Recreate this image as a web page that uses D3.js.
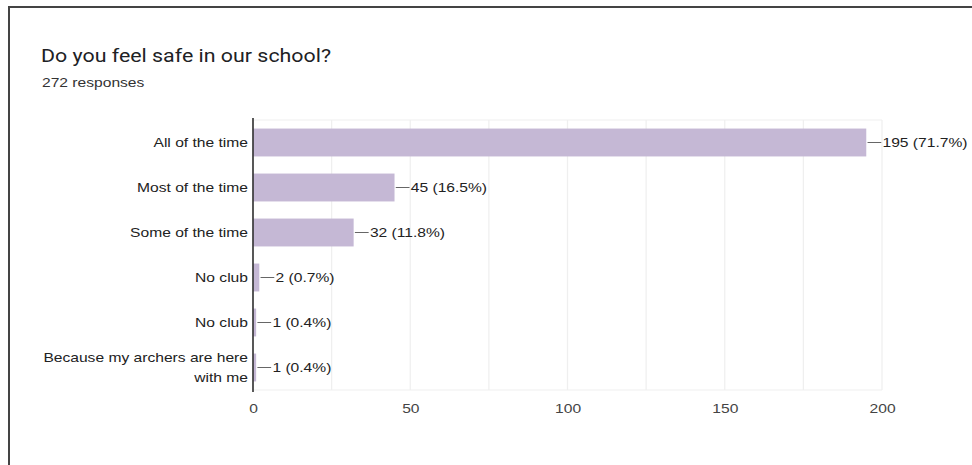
<!DOCTYPE html>
<html>
<head>
<meta charset="utf-8">
<script src="https://cdn.jsdelivr.net/npm/d3@7"></script>
<style>
  html, body { margin: 0; padding: 0; background: #fff; }
  svg { display: block; }
</style>
</head>
<body>
<svg id="chart" width="972" height="465"></svg>
<script>
// ---- data ----
const title = "Do you feel safe in our school?";
const subtitle = "272 responses";
const totalResponses = 272;
const categories = ["All of the time", "Most of the time", "Some of the time", "No club", "No club", "Because my archers are here with me"];
const values = [195, 45, 32, 2, 1, 1];
const xTickLabels = [0, 50, 100, 150, 200];
const gridValues = [0, 25, 50, 75, 100, 125, 150, 175, 200];

// ---- layout ----
const W = 972, H = 465;
const sx = 1.25;               // horizontal stretch of the reference picture
const titleSx = 1.125;
const plotLeft = 253 / sx, plotRight = 882 / sx;
const plotTop = 120, plotBottom = 390;
const font = "'Liberation Sans', Arial, sans-serif";

const svg = d3.select("#chart");
svg.append("rect").attr("width", W).attr("height", H).attr("fill", "#fff");

// frame border (top + left)
svg.append("line").attr("x1", 8).attr("x2", W).attr("y1", 7).attr("y2", 7)
  .attr("stroke", "#444").attr("stroke-width", 2);
svg.append("line").attr("x1", 9).attr("x2", 9).attr("y1", 6).attr("y2", H)
  .attr("stroke", "#444").attr("stroke-width", 2);

// title (own stretch)
svg.append("g").attr("transform", `scale(${titleSx},1)`)
  .append("text").attr("x", 41 / titleSx).attr("y", 62)
  .attr("font-family", "Roboto, 'Open Sans', sans-serif").attr("font-size", 19)
  .attr("fill", "#202124").text(title);

const g = svg.append("g").attr("transform", `scale(${sx},1)`);

g.append("text").attr("x", 42 / sx).attr("y", 87)
  .attr("font-family", font).attr("font-size", 12.5)
  .attr("fill", "#333").text(subtitle);

const x = d3.scaleLinear().domain([0, 200]).range([plotLeft, plotRight]);
const y = d3.scaleBand().domain(d3.range(categories.length))
  .range([plotTop, plotBottom]).paddingInner(0.38).paddingOuter(0.19);

// gridlines
g.append("g").selectAll("line").data(gridValues).join("line")
  .attr("x1", d => x(d)).attr("x2", d => x(d))
  .attr("y1", plotTop).attr("y2", plotBottom)
  .attr("stroke", "#efefef").attr("stroke-width", 1);
g.append("line").attr("x1", plotLeft).attr("x2", plotRight)
  .attr("y1", plotTop).attr("y2", plotTop).attr("stroke", "#efefef");
g.append("line").attr("x1", plotLeft).attr("x2", plotRight)
  .attr("y1", plotBottom).attr("y2", plotBottom).attr("stroke", "#efefef");

// x axis tick labels
const xAxis = d3.axisBottom(x).tickValues(xTickLabels).tickSize(0).tickPadding(0).tickFormat(d3.format("d"));
const ax = g.append("g").attr("transform", `translate(0,${plotBottom + 14})`).call(xAxis);
ax.select(".domain").remove();
ax.selectAll("text").attr("font-family", font).attr("font-size", 12.5).attr("fill", "#444");

// bars
g.append("g").selectAll("rect").data(values).join("rect")
  .attr("x", x(0)).attr("y", (d, i) => y(i))
  .attr("width", d => x(d) - x(0)).attr("height", y.bandwidth())
  .attr("fill", "#c5b8d5");

// leader lines + value labels
const vl = g.append("g").selectAll("g").data(values).join("g")
  .attr("transform", (d, i) => `translate(${x(d)},${y(i) + y.bandwidth() / 2})`);
vl.append("line").attr("x1", 1).attr("x2", 12).attr("y1", 0).attr("y2", 0)
  .attr("stroke", "#666").attr("stroke-width", 1);
vl.append("text").attr("x", 13).attr("y", 4.5)
  .attr("font-family", font).attr("font-size", 12.5).attr("fill", "#222")
  .text(d => `${d} (${(d / totalResponses * 100).toFixed(1)}%)`);

// category labels (wrapped)
const maxLabelW = 172;
const labels = g.append("g").selectAll("text").data(categories).join("text")
  .attr("text-anchor", "end")
  .attr("font-family", font).attr("font-size", 12.5).attr("fill", "#222");
labels.each(function (d, i) {
  const t = d3.select(this);
  const words = d.split(" ");
  const lines = [];
  let cur = [];
  const probe = t.append("tspan");
  words.forEach(w => {
    const test = cur.concat([w]).join(" ");
    probe.text(test);
    if (probe.node().getComputedTextLength() > maxLabelW && cur.length) {
      lines.push(cur.join(" "));
      cur = [w];
    } else cur.push(w);
  });
  lines.push(cur.join(" "));
  probe.remove();
  const lh = 20;
  const cy = y(i) + y.bandwidth() / 2;
  const first = cy + 4.5 - (lines.length - 1) * lh / 2;
  lines.forEach((ln, k) => {
    t.append("tspan").attr("x", plotLeft - 4).attr("y", first + k * lh).text(ln);
  });
});

// vertical axis line
g.append("line").attr("x1", plotLeft).attr("x2", plotLeft)
  .attr("y1", plotTop - 2).attr("y2", plotBottom + 2)
  .attr("stroke", "#333").attr("stroke-width", 1.3);
</script>
</body>
</html>
